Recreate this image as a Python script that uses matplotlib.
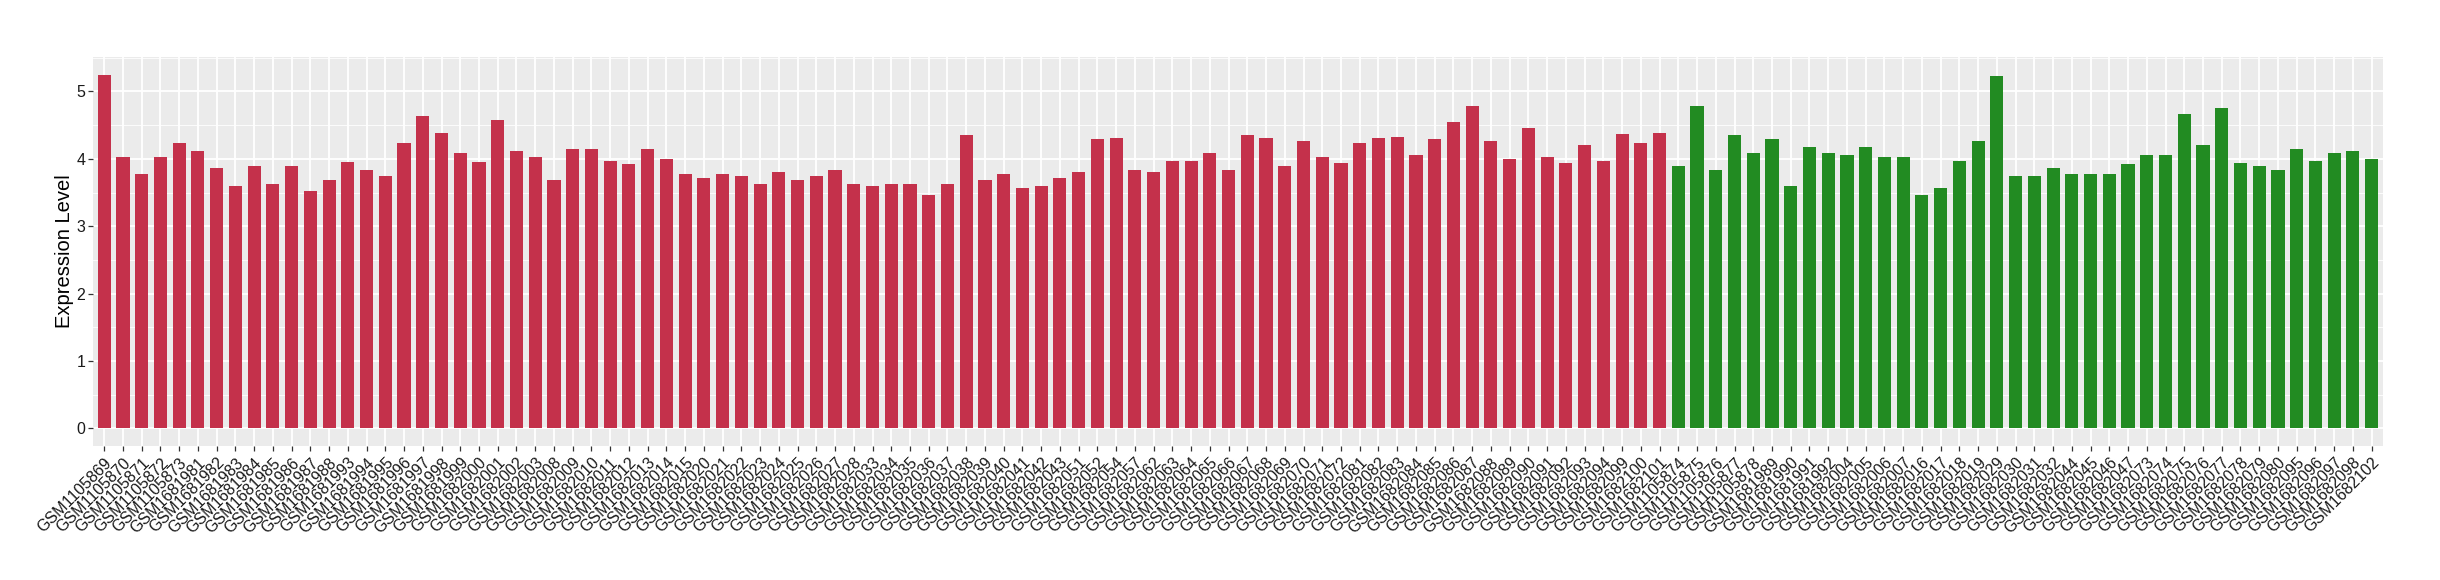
import numpy as np
import matplotlib
matplotlib.use("Agg")
import matplotlib.pyplot as plt
from matplotlib.ticker import MultipleLocator

plt.rcParams['font.family'] = ['Liberation Sans', 'DejaVu Sans']

# ==========================
# Data
# ==========================
red_samples = [
    "GSM1105869", "GSM1105870", "GSM1105871", "GSM1105872", "GSM1105873",
    "GSM1681981", "GSM1681982", "GSM1681983", "GSM1681984", "GSM1681985",
    "GSM1681986", "GSM1681987", "GSM1681988", "GSM1681993", "GSM1681994",
    "GSM1681995", "GSM1681996", "GSM1681997", "GSM1681998", "GSM1681999",
    "GSM1682000", "GSM1682001", "GSM1682002", "GSM1682003", "GSM1682008",
    "GSM1682009", "GSM1682010", "GSM1682011", "GSM1682012", "GSM1682013",
    "GSM1682014", "GSM1682015", "GSM1682020", "GSM1682021", "GSM1682022",
    "GSM1682023", "GSM1682024", "GSM1682025", "GSM1682026", "GSM1682027",
    "GSM1682028", "GSM1682033", "GSM1682034", "GSM1682035", "GSM1682036",
    "GSM1682037", "GSM1682038", "GSM1682039", "GSM1682040", "GSM1682041",
    "GSM1682042", "GSM1682043", "GSM1682051", "GSM1682052", "GSM1682054",
    "GSM1682057", "GSM1682062", "GSM1682063", "GSM1682064", "GSM1682065",
    "GSM1682066", "GSM1682067", "GSM1682068", "GSM1682069", "GSM1682070",
    "GSM1682071", "GSM1682072", "GSM1682081", "GSM1682082", "GSM1682083",
    "GSM1682084", "GSM1682085", "GSM1682086", "GSM1682087", "GSM1682088",
    "GSM1682089", "GSM1682090", "GSM1682091", "GSM1682092", "GSM1682093",
    "GSM1682094", "GSM1682099", "GSM1682100", "GSM1682101",
]
red_values = [
    5.25, 4.03, 3.77, 4.02, 4.23, 4.11, 3.86, 3.60, 3.89, 3.62,
    3.90, 3.53, 3.69, 3.96, 3.84, 3.74, 4.24, 4.64, 4.39, 4.09,
    3.96, 4.57, 4.11, 4.02, 3.69, 4.14, 4.15, 3.97, 3.92, 4.14,
    3.99, 3.77, 3.72, 3.78, 3.74, 3.63, 3.81, 3.69, 3.74, 3.83,
    3.63, 3.60, 3.62, 3.62, 3.46, 3.62, 4.36, 3.68, 3.78, 3.56,
    3.59, 3.72, 3.81, 4.29, 4.31, 3.84, 3.80, 3.97, 3.97, 4.08,
    3.83, 4.36, 4.31, 3.89, 4.26, 4.03, 3.94, 4.24, 4.31, 4.33,
    4.06, 4.30, 4.54, 4.79, 4.26, 3.99, 4.46, 4.02, 3.94, 4.20,
    3.97, 4.37, 4.24, 4.39,
]

green_samples = [
    "GSM1105874", "GSM1105875", "GSM1105876", "GSM1105877", "GSM1105878",
    "GSM1681989", "GSM1681990", "GSM1681991", "GSM1681992", "GSM1682004",
    "GSM1682005", "GSM1682006", "GSM1682007", "GSM1682016", "GSM1682017",
    "GSM1682018", "GSM1682019", "GSM1682029", "GSM1682030", "GSM1682031",
    "GSM1682032", "GSM1682044", "GSM1682045", "GSM1682046", "GSM1682047",
    "GSM1682073", "GSM1682074", "GSM1682075", "GSM1682076", "GSM1682077",
    "GSM1682078", "GSM1682079", "GSM1682080", "GSM1682095", "GSM1682096",
    "GSM1682097", "GSM1682098", "GSM1682102",
]
green_values = [
    3.89, 4.79, 3.84, 4.36, 4.09, 4.29, 3.59, 4.18, 4.08, 4.06,
    4.18, 4.03, 4.03, 3.46, 3.56, 3.97, 4.26, 5.23, 3.74, 3.74,
    3.87, 3.78, 3.77, 3.77, 3.93, 4.06, 4.05, 4.67, 4.20, 4.76,
    3.94, 3.90, 3.83, 4.14, 3.97, 4.08, 4.11, 3.99,
]

red_color = "#C4314B"
green_color = "#228B22"

# ==========================
# Plot
# ==========================
def main():
    samples = red_samples + green_samples
    values = red_values + green_values
    colors = [red_color] * len(red_samples) + [green_color] * len(green_samples)
    x = np.arange(len(samples))

    fig = plt.figure(figsize=(24.4, 5.8), dpi=100)
    ax = fig.add_axes([0.0381, 0.2310, 0.9385, 0.6707])

    ax.set_facecolor("#EBEBEB")
    ax.bar(x, values, width=0.7, color=colors, zorder=3)

    ax.set_xlim(-0.6, len(samples) - 0.4)
    ax.set_ylim(-0.26, 5.51)

    ax.yaxis.set_major_locator(MultipleLocator(1))
    ax.yaxis.set_minor_locator(MultipleLocator(0.5))
    ax.grid(which="major", color="white", linewidth=1.3, zorder=0)
    ax.grid(which="minor", axis="y", color="white", linewidth=0.6, zorder=0)
    ax.set_axisbelow(True)

    ax.set_xticks(x)
    ax.set_xticklabels(samples, rotation=45, ha="right", rotation_mode="anchor",
                       fontsize=11.5, color="#1a1a1a")
    ax.tick_params(axis="y", which="major", labelsize=11.5, labelcolor="#1a1a1a",
                   length=3.5, width=0.9, color="#333333", pad=2)
    ax.tick_params(axis="y", which="minor", length=0)
    ax.tick_params(axis="x", length=3.5, width=0.9, color="#333333", pad=3)

    ax.set_ylabel("Expression Level", fontsize=14.5, color="black", labelpad=2)

    for s in ax.spines.values():
        s.set_visible(False)

    fig.savefig("out.png", dpi=100)


if __name__ == '__main__':
    main()
